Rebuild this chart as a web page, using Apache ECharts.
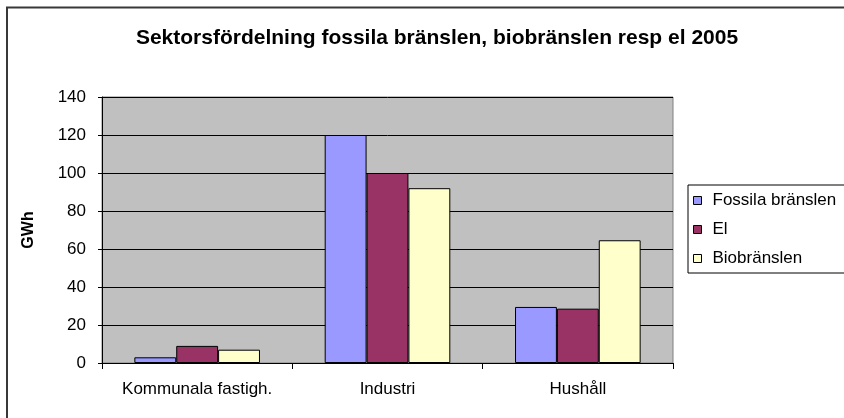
<!DOCTYPE html>
<html>
<head>
<meta charset="utf-8">
<script src="https://cdn.jsdelivr.net/npm/echarts@6/dist/echarts.min.js"></script>
<style>
  html, body { margin: 0; padding: 0; background: #fff; }
  #chart { width: 844px; height: 418px; }
</style>
</head>
<body>
<div id="chart"></div>
<script>
var categories = ["Kommunala fastigh.", "Industri", "Hushåll"];
var fossila = [3, 120, 29.5];
var el = [9, 100, 28.6];
var bio = [7, 92, 64.6];
var yTicks = [0, 20, 40, 60, 80, 100, 120, 140];

var chartDom = document.getElementById("chart");
var myChart = echarts.init(chartDom);
var font = "Liberation Sans, Arial, sans-serif";

var option = {
  animation: false,
  textStyle: { fontFamily: font },
  title: {
    text: "Sektorsfördelning fossila bränslen, biobränslen resp el 2005",
    left: 432,
    textAlign: "center",
    top: 23,
    textStyle: { fontSize: 21, fontWeight: "bold", color: "#000", fontFamily: font }
  },
  graphic: [
    {
      type: "rect",
      shape: { x: 7, y: 7.5, width: 900, height: 500 },
      style: { fill: "none", stroke: "#383838", lineWidth: 2 },
      silent: true
    }
  ],
  grid: {
    left: 102, right: 171, top: 97, bottom: 55,
    show: true,
    backgroundColor: "#c0c0c0",
    borderColor: "#808080",
    borderWidth: 1
  },
  legend: {
    orient: "vertical",
    left: 688,
    top: 185,
    padding: [7, 30, 6, 5],
    itemWidth: 8,
    itemHeight: 8,
    itemGap: 12,
    borderColor: "#000",
    borderWidth: 1,
    backgroundColor: "#fff",
    icon: "rect",
    itemStyle: { borderColor: "#000", borderWidth: 1 },
    textStyle: { fontSize: 17, color: "#000", lineHeight: 17, padding: [0, 0, 0, 6], fontFamily: font },
    data: ["Fossila bränslen", "El", "Biobränslen"]
  },
  xAxis: {
    type: "category",
    data: categories,
    axisLine: { lineStyle: { color: "#000", width: 1 } },
    axisTick: { show: true, interval: 0, length: 6, lineStyle: { color: "#000" } },
    axisLabel: { fontSize: 17, color: "#000", margin: 18, interval: 0 }
  },
  yAxis: {
    type: "value",
    min: yTicks[0],
    max: yTicks[yTicks.length - 1],
    interval: 20,
    name: "GWh",
    nameLocation: "middle",
    nameRotate: 90,
    nameGap: 65,
    nameTextStyle: { fontSize: 16, fontWeight: "bold", color: "#000" },
    axisLine: { show: true, lineStyle: { color: "#000", width: 1 } },
    axisTick: { show: true, length: 4, lineStyle: { color: "#000" } },
    axisLabel: { fontSize: 17, color: "#000", margin: 16 },
    splitLine: { show: true, lineStyle: { color: "#000", width: 1 } }
  },
  series: [
    {
      name: "Fossila bränslen",
      type: "bar",
      data: fossila,
      barGap: "0%",
      barCategoryGap: "34%",
      itemStyle: { color: "#9999ff", borderColor: "#000", borderWidth: 1 }
    },
    {
      name: "El",
      type: "bar",
      data: el,
      itemStyle: { color: "#993366", borderColor: "#000", borderWidth: 1 }
    },
    {
      name: "Biobränslen",
      type: "bar",
      data: bio,
      itemStyle: { color: "#ffffcc", borderColor: "#000", borderWidth: 1 }
    }
  ]
};

option && myChart.setOption(option);
</script>
</body>
</html>
